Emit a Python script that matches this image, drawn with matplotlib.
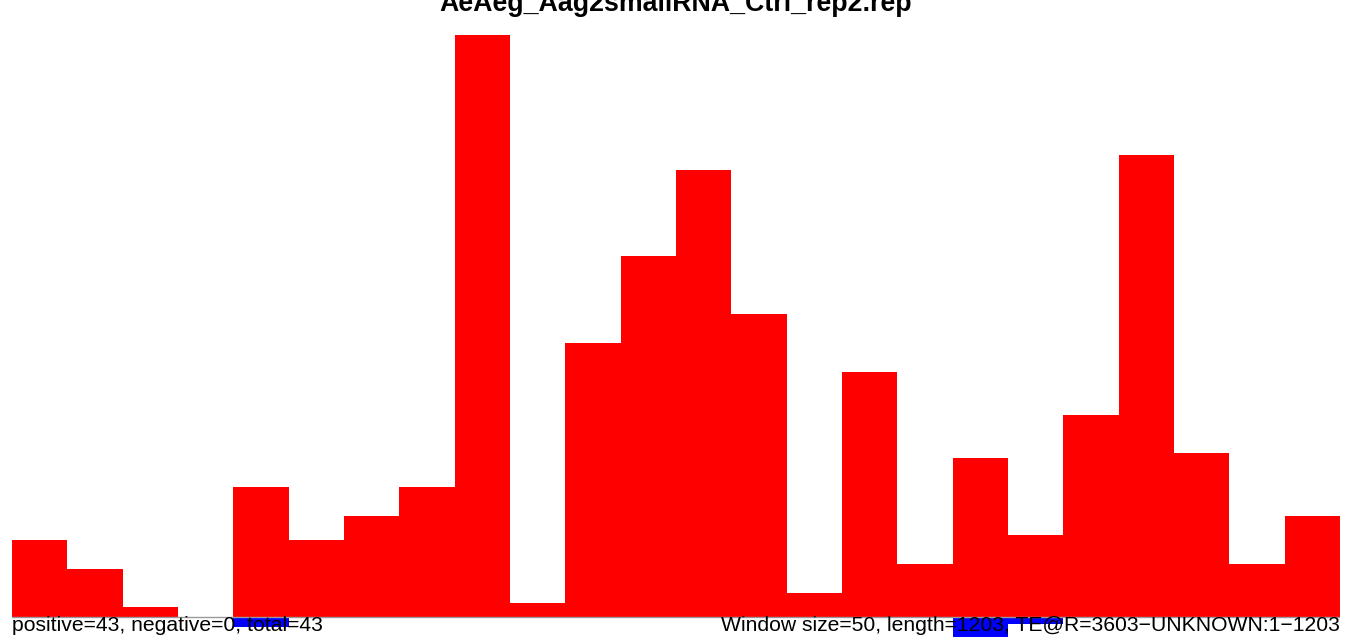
import numpy as np
import matplotlib
matplotlib.use("Agg")
import matplotlib.pyplot as plt

# read counts per 50-nt window (sense strand on top, antisense below)
title = "AeAeg_Aag2smallRNA_Ctrl_rep2.rep"
sense = [16, 10, 2, 0, 27, 16, 21, 27, 121, 3, 57, 75,
         93, 63, 5, 51, 11, 33, 17, 42, 96, 34, 11, 21]
antisense = [0, 0, 0, 0, 2, 0, 0, 0, 0, 0, 0, 0,
             0, 0, 0, 0, 0, 5, 1.5, 0, 0, 0, 0, 0]
left_note = "positive=43, negative=0, total=43"
right_note = "Window size=50, length=1203, TE@R=3603\u2212UNKNOWN:1\u22121203"

W, H = 1352, 637
plt.rcParams['font.family'] = ['Liberation Sans', 'DejaVu Sans']

fig = plt.figure(figsize=(W / 100, H / 100), dpi=100)
fig.patch.set_facecolor('white')

# baseline sits 20 px above the bottom edge, tallest bar reaches 35 px from top
x0, x1 = 12, 1340
ax = fig.add_axes([x0 / W, 0, (x1 - x0) / W, 1])
ymax = max(sense)
per_px = ymax / (617 - 35)
ax.set_ylim(-(H - 617) * per_px, ymax + 35 * per_px)
ax.set_xlim(0, len(sense))
ax.axis('off')

pos = np.arange(len(sense))
ax.bar(pos, sense, width=1, align='edge', color='#ff0000', linewidth=0)
ax.bar(pos, [-v for v in antisense], width=1, align='edge', color='#0000ff', linewidth=0)
ax.axhline(0, color='#999999', linewidth=1)

fig.text(x0 / W, 6 / H, left_note, ha='left', va='baseline', fontsize=15.2)
fig.text(x1 / W, 6 / H, right_note, ha='right', va='baseline', fontsize=15.2)
# title is clipped by the top edge, as in the original
fig.text(0.5, (H - 11) / H, title, ha='center', va='baseline', fontsize=19.3, weight='bold')

fig.savefig("out.png", dpi=100, facecolor='white')
